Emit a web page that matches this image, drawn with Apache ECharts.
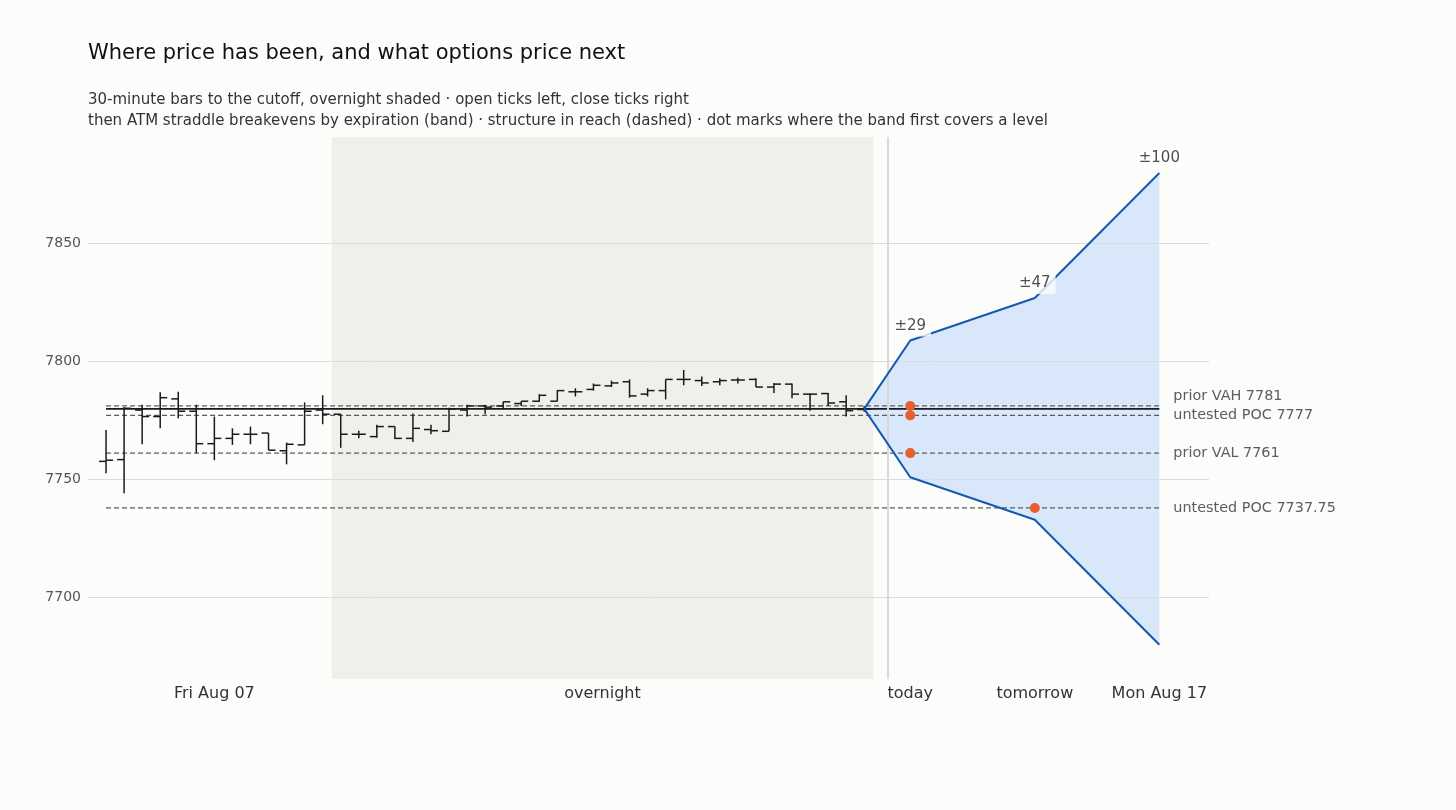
<!DOCTYPE html>
<html><head><meta charset="utf-8">
<script src="https://cdn.jsdelivr.net/npm/echarts@6/dist/echarts.min.js"></script>
<style>html,body{margin:0;padding:0;background:#fcfcfb;}#c{width:1456px;height:810px;}</style>
</head><body><div id="c"></div>
<script>
// ---- data ----
const barOpen  = [7757.5,7758.25,7779.25,7776.5,7784,7778.75,7765,7767.25,7769,7769.5,7762,7764.5,7779.25,7777.5,7769,7768,7772.25,7767.25,7771,7770.25,7779.25,7781,7781,7782,7783,7783,7787,7788,7789.5,7791.25,7786,7787.5,7792.25,7791.75,7791.25,7792,7792.25,7789,7790.25,7786,7786.25,7782.75,7779.5];
const barHigh  = [7770.75,7780.5,7781.5,7786.75,7787,7781.5,7776.5,7771.5,7772.25,7769.5,7765.5,7782.5,7785.5,7777.5,7770.5,7773,7772.25,7777.75,7773,7780.25,7781.5,7781.5,7782.75,7783,7786,7787.75,7788.5,7790.5,7791.75,7792.25,7788.5,7792.25,7796.25,7793.5,7792.75,7793,7792.75,7790.75,7790.5,7786.25,7786.5,7785.5,7781];
const barLow   = [7752.5,7744,7764.75,7771.5,7775.75,7761,7758,7764.5,7764.75,7762.25,7756.25,7764.5,7773.25,7763.25,7767.25,7767.5,7767,7765.75,7769,7770.25,7776.5,7777.5,7779.5,7781,7782.75,7783,7785,7787.5,7789,7784.5,7785,7783.75,7789.75,7789.5,7789.75,7790.5,7789,7786.5,7784.25,7779,7781,7776.5,7778.5];
const barClose = [7758,7780,7776.5,7784.5,7778.75,7765,7767.25,7769,7769,7762.25,7764.75,7778.75,7777.5,7769,7769,7772.25,7767.25,7771.5,7770.5,7779.75,7781,7780.5,7782.75,7783,7785.5,7787.5,7787,7789.75,7790.75,7785.25,7787.5,7792.25,7792.25,7790.75,7791.75,7792,7789,7790.25,7786,7786,7782.25,7779,7779.75];
const sessionLabels = ['Fri Aug 07', 'overnight'];
const sessionCenters = [6, 27.5];
const overnightRange = [12.5, 42.5];
const cutoffX = 43.3;
const horizonLabels = ['today', 'tomorrow', 'Mon Aug 17'];
const horizonX = [44.55, 51.45, 58.35];
const straddle = [29, 47, 100];
const levelNames = ['prior VAH', 'untested POC', 'prior VAL', 'untested POC'];
const levelValues = [7781, 7777, 7761, 7737.75];
const yTicks = [7700, 7750, 7800, 7850];

// ---- derived ----
const FONT = 'DejaVu Sans';
const nBars = barOpen.length;
const lastIdx = nBars - 1;
const lastPrice = barClose[lastIdx];
const bars = barOpen.map((o, i) => [i, o, barHigh[i], barLow[i], barClose[i]]);
const upper = [[lastIdx, lastPrice]].concat(horizonX.map((x, k) => [x, lastPrice + straddle[k]]));
const lower = [[lastIdx, lastPrice]].concat(horizonX.map((x, k) => [x, lastPrice - straddle[k]]));
const endX = horizonX[horizonX.length - 1];
const xMin = -1, xMax = 61.1, yMin = 7665.25, yMax = 7895;
const gridTop = 137, gridBottom = 131, plotH = 810 - gridTop - gridBottom;
const pxPerUnit = plotH / (yMax - yMin);

// first horizon covering each level
const dots = [];
levelValues.forEach(v => {
  for (let k = 0; k < horizonX.length; k++) {
    if (v <= lastPrice + straddle[k] && v >= lastPrice - straddle[k]) { dots.push([horizonX[k], v]); break; }
  }
});

// level label de-overlap (pixel offsets)
const order = levelValues.map((v, i) => i).sort((a, b) => levelValues[a] - levelValues[b]);
const labelOffsets = new Array(levelValues.length).fill(0);
let prevY = null;
order.forEach(i => {
  let y = (yMax - levelValues[i]) * pxPerUnit;
  if (prevY !== null && prevY - y < 19) { labelOffsets[i] = (prevY - 19) - y; y = prevY - 19; }
  prevY = y;
});

const xLabelPos = sessionCenters.concat(horizonX);
const xLabelText = sessionLabels.concat(horizonLabels);

const series = [];
// overnight shade + cutoff line
series.push({
  type: 'line', data: [], z: 1, silent: true,
  markArea: { silent: true, itemStyle: { color: '#efefeb' }, data: [[{ xAxis: overnightRange[0] }, { xAxis: overnightRange[1] }]] },
  markLine: { silent: true, symbol: 'none', label: { show: false }, lineStyle: { color: '#d9d9d9', width: 2, type: 'solid' }, data: [{ xAxis: cutoffX }] }
});
// gridlines
series.push({
  type: 'line', data: [], z: 2, silent: true,
  markLine: { silent: true, symbol: 'none', label: { show: false }, lineStyle: { color: '#dcdcdc', width: 1, type: 'solid' }, data: yTicks.map(v => ({ yAxis: v })) }
});
// band fill
series.push({
  type: 'custom', z: 3, silent: true, data: [[0]],
  renderItem: (params, api) => {
    const pts = upper.map(p => api.coord(p)).concat(lower.slice().reverse().map(p => api.coord(p)));
    return { type: 'polygon', shape: { points: pts }, style: { fill: '#d8e7fa' } };
  }
});
// level lines
levelValues.forEach((v, i) => {
  series.push({
    type: 'line', z: 4, silent: true, symbol: 'none', data: [[0, v], [endX, v]],
    lineStyle: { color: '#5c5c5c', width: 1.2, type: [5, 3] }
  });
});
// last price line
series.push({ type: 'line', z: 4, silent: true, symbol: 'none', data: [[0, lastPrice], [endX, lastPrice]], lineStyle: { color: '#1a1a1a', width: 1.6 } });
// OHLC bars
series.push({
  type: 'custom', z: 5, data: bars,
  renderItem: (params, api) => {
    const x = api.value(0);
    const ph = api.coord([x, api.value(2)]), pl = api.coord([x, api.value(3)]);
    const po = api.coord([x, api.value(1)]), pc = api.coord([x, api.value(4)]);
    const tw = 7, st = { stroke: '#1a1a1a', lineWidth: 1.5 };
    return { type: 'group', children: [
      { type: 'line', shape: { x1: ph[0], y1: ph[1], x2: pl[0], y2: pl[1] }, style: st },
      { type: 'line', shape: { x1: po[0] - tw, y1: po[1], x2: po[0], y2: po[1] }, style: st },
      { type: 'line', shape: { x1: pc[0], y1: pc[1], x2: pc[0] + tw, y2: pc[1] }, style: st }
    ] };
  }
});
// band edges
[upper, lower].forEach(d => series.push({ type: 'line', z: 6, silent: true, symbol: 'none', data: d, lineStyle: { color: '#1558b0', width: 2 } }));
// straddle labels
series.push({
  type: 'scatter', z: 7, silent: true, symbolSize: 0, data: upper.slice(1).map((p, k) => ({ value: p, name: '±' + straddle[k] })),
  label: { show: true, position: 'top', distance: 4, formatter: p => p.name, color: '#222', fontSize: 15, fontFamily: FONT, backgroundColor: '#fcfcfb', padding: [3, 5] }
});
// dots
series.push({ type: 'scatter', z: 8, silent: true, symbol: 'circle', symbolSize: 10, data: dots, itemStyle: { color: '#e5602e', opacity: 1 } });
// level labels
series.push({
  type: 'scatter', z: 7, silent: true, symbolSize: 0,
  data: levelValues.map((v, i) => ({ value: [endX, v], name: levelNames[i] + ' ' + v, label: { offset: [0, labelOffsets[i]] } })),
  label: { show: true, position: 'right', distance: 14, formatter: p => p.name, color: '#333', fontSize: 14.4, fontFamily: FONT }
});

const chart = echarts.init(document.getElementById('c'), null, { renderer: 'canvas' });
chart.setOption({
  backgroundColor: '#fcfcfb',
  animation: false,
  textStyle: { fontFamily: FONT },
  grid: { left: 88, right: 247, top: gridTop, bottom: gridBottom, containLabel: false },
  xAxis: {
    type: 'value', min: xMin, max: xMax,
    axisLine: { show: false }, axisTick: { show: false }, splitLine: { show: false },
    axisLabel: { customValues: xLabelPos, margin: 7, color: '#333', fontSize: 16, fontFamily: FONT,
      formatter: v => { const k = xLabelPos.findIndex(p => Math.abs(p - v) < 1e-6); return k >= 0 ? xLabelText[k] : ''; } }
  },
  yAxis: {
    type: 'value', min: yMin, max: yMax,
    axisLine: { show: false }, axisTick: { show: false }, splitLine: { show: false },
    axisLabel: { customValues: yTicks, margin: 7, color: '#555', fontSize: 14, fontFamily: FONT, formatter: v => String(v) }
  },
  graphic: [
    { type: 'text', left: 88, top: 43, style: { text: 'Where price has been, and what options price next', font: '21px "DejaVu Sans"', fill: '#111' } },
    { type: 'text', left: 88, top: 93, style: { text: '30-minute bars to the cutoff, overnight shaded · open ticks left, close ticks right', font: '15px "DejaVu Sans"', fill: '#333' } },
    { type: 'text', left: 88, top: 114, style: { text: 'then ATM straddle breakevens by expiration (band) · structure in reach (dashed) · dot marks where the band first covers a level', font: '15px "DejaVu Sans"', fill: '#333' } }
  ],
  series: series
});
</script></body></html>
